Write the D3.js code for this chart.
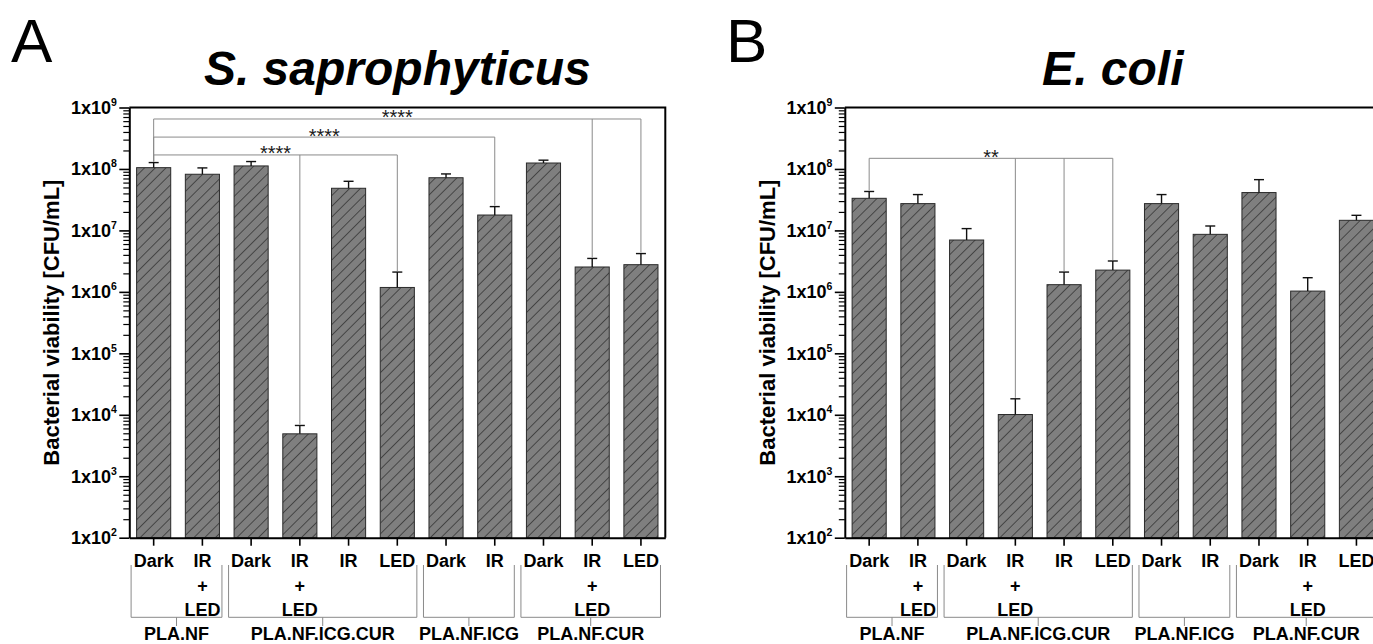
<!DOCTYPE html>
<html>
<head>
<meta charset="utf-8">
<script src="https://cdn.jsdelivr.net/npm/d3@7"></script>
<style>
  html, body { margin: 0; padding: 0; background: #fff; }
  svg { display: block; font-family: "Liberation Sans", Arial, sans-serif; }
</style>
</head>
<body>
<svg id="chart" width="1373" height="644"></svg>
<script>
// Treatment of each bar (a "+" splits the label over several lines)
const conditions = ["Dark", "IR+LED", "Dark", "IR+LED", "IR", "LED", "Dark", "IR", "Dark", "IR+LED", "LED"];
// Material groups under the x axis and how many bars each one spans
const groupNames = ["PLA.NF", "PLA.NF.ICG.CUR", "PLA.NF.ICG", "PLA.NF.CUR"];
const groupSizes = [2, 4, 2, 3];

// Mean viable counts (CFU/mL) and standard deviations
const saproMean = [1.05e8, 8.2e7, 1.12e8, 4.9e3, 4.85e7, 1.18e6, 7.2e7, 1.78e7, 1.25e8, 2.54e6, 2.77e6];
const saproSD   = [2.2e7, 2.2e7, 2.0e7, 1.8e3, 1.45e7, 9.2e5, 1.1e7, 6.6e6, 1.4e7, 9.6e5, 1.43e6];
const coliMean  = [3.33e7, 2.73e7, 6.98e6, 1.01e4, 1.31e6, 2.26e6, 2.73e7, 8.63e6, 4.13e7, 1.03e6, 1.46e7];
const coliSD    = [9.7e6, 1.1e7, 3.72e6, 8.1e3, 7.9e5, 9.2e5, 1.1e7, 3.17e6, 2.57e7, 6.7e5, 3.0e6];

// Significance brackets: reference bar, compared bars, bracket level (CFU/mL), label
const saproSig = [
  { ref: 0, targets: [3, 5], level: 1.69e8, label: "****" },
  { ref: 0, targets: [7],    level: 3.3e8,  label: "****" },
  { ref: 0, targets: [9, 10], level: 6.5e8, label: "****" }
];
const coliSig = [
  { ref: 0, targets: [3, 4, 5], level: 1.49e8, label: "**" }
];

// Axis ticks
const yMajorTicks = [1e2, 1e3, 1e4, 1e5, 1e6, 1e7, 1e8, 1e9];
const yMinorTicks = [];
for (let e = 2; e < 9; e++) for (let k = 2; k <= 9; k++) yMinorTicks.push(k * Math.pow(10, e));

const panels = [
  { letter: "A", title: "S. saprophyticus", mean: saproMean, sd: saproSD, sig: saproSig, left: 129.3, letterX: 11 },
  { letter: "B", title: "E. coli",          mean: coliMean,  sd: coliSD,  sig: coliSig,  left: 844.8, letterX: 726 }
];

const svg = d3.select("#chart");
const FONT = '"Liberation Sans", Arial, sans-serif';
const plotW = 536, plotTop = 107.5, plotBottom = 537.7;

// diagonal hatch for the bars
const defs = svg.append("defs");
const pat = defs.append("pattern")
  .attr("id", "hatch")
  .attr("patternUnits", "userSpaceOnUse")
  .attr("width", 7.6).attr("height", 7.6)
  .attr("patternTransform", "rotate(45)");
pat.append("rect").attr("width", 7.6).attr("height", 7.6).attr("fill", "#7f7f7f");
pat.append("line").attr("x1", 0).attr("y1", 0).attr("x2", 0).attr("y2", 7.6)
  .attr("stroke", "#161616").attr("stroke-width", 1.1);

const y = d3.scaleLog().domain([1e2, 1e9]).range([plotBottom, plotTop]);

panels.forEach(p => {
  const g = svg.append("g");
  const x = d3.scaleBand().domain(d3.range(conditions.length))
    .range([p.left, p.left + plotW]).paddingInner(0.3).paddingOuter(0.15);
  const bw = x.bandwidth();
  const cx = i => x(i) + bw / 2;

  // panel letter and title
  g.append("text").attr("x", p.letterX).attr("y", 62)
    .attr("font-size", 62).attr("font-family", FONT).text(p.letter);
  g.append("text").attr("x", p.left + plotW / 2).attr("y", 85)
    .attr("text-anchor", "middle").attr("font-size", 48)
    .attr("font-weight", "bold").attr("font-style", "italic")
    .attr("font-family", FONT).text(p.title);

  // bars
  g.append("g").selectAll("rect").data(p.mean).join("rect")
    .attr("x", (d, i) => x(i)).attr("width", bw)
    .attr("y", d => y(d)).attr("height", d => plotBottom - y(d))
    .attr("fill", "url(#hatch)").attr("stroke", "#2a2a2a").attr("stroke-width", 1);

  // error bars (upper)
  const eb = g.append("g").attr("stroke", "#111").attr("stroke-width", 1.4);
  p.mean.forEach((m, i) => {
    const yt = y(m + p.sd[i]);
    eb.append("line").attr("x1", cx(i)).attr("x2", cx(i)).attr("y1", y(m)).attr("y2", yt);
    eb.append("line").attr("x1", cx(i) - 5).attr("x2", cx(i) + 5).attr("y1", yt).attr("y2", yt);
  });

  // significance brackets
  const sg = g.append("g");
  p.sig.forEach(s => {
    const yl = y(s.level);
    const last = s.targets[s.targets.length - 1];
    const legEnd = i => y(p.mean[i] + p.sd[i]) - 1;
    sg.append("line").attr("x1", cx(s.ref)).attr("x2", cx(last)).attr("y1", yl).attr("y2", yl)
      .attr("stroke", "#8a8a8a").attr("stroke-width", 1);
    [s.ref].concat(s.targets).forEach(i => {
      sg.append("line").attr("x1", cx(i)).attr("x2", cx(i)).attr("y1", yl).attr("y2", legEnd(i))
        .attr("stroke", "#8a8a8a").attr("stroke-width", 1);
    });
    sg.append("text").attr("x", (cx(s.ref) + cx(last)) / 2).attr("y", yl + 5.5)
      .attr("text-anchor", "middle").attr("font-size", 20)
      .attr("font-family", FONT).attr("fill", "#1a1a1a").text(s.label);
  });

  // frame top and right
  g.append("path")
    .attr("d", `M${p.left},${plotTop}H${p.left + plotW}V${plotBottom}`)
    .attr("fill", "none").attr("stroke", "#000").attr("stroke-width", 2);

  // y axis: minor then major ticks
  g.append("g").attr("transform", `translate(${p.left},0)`)
    .call(d3.axisLeft(y).tickValues(yMinorTicks).tickSize(6).tickSizeOuter(0).tickFormat(() => ""))
    .call(a => a.select(".domain").remove())
    .call(a => a.selectAll("line").attr("stroke-width", 1.2));

  const ya = g.append("g").attr("transform", `translate(${p.left},0)`)
    .call(d3.axisLeft(y).tickValues(yMajorTicks).tickSize(10).tickSizeOuter(0).tickPadding(2.5).tickFormat(() => ""));
  ya.select(".domain").attr("stroke-width", 2);
  ya.selectAll("line").attr("stroke-width", 1.6);
  ya.selectAll("text").each(function(d) {
    const t = d3.select(this).attr("font-size", 18).attr("font-weight", "bold")
      .attr("font-family", FONT).attr("fill", "#000");
    t.append("tspan").text("1x10");
    t.append("tspan").attr("font-size", 10.5).attr("dy", "-8").text(Math.round(Math.log10(d)));
  });

  // y axis title
  g.append("text")
    .attr("transform", `translate(${p.left - 70},${(plotTop + plotBottom) / 2}) rotate(-90)`)
    .attr("text-anchor", "middle").attr("font-size", 22).attr("font-weight", "bold")
    .attr("font-family", FONT).text("Bacterial viability [CFU/mL]");

  // x axis
  const xa = g.append("g").attr("transform", `translate(0,${plotBottom})`)
    .call(d3.axisBottom(x).tickSize(8).tickSizeOuter(0).tickFormat(() => ""));
  xa.select(".domain").attr("stroke-width", 2);
  xa.selectAll("line").attr("stroke-width", 1.6);

  // multi-line condition labels
  const lg = g.append("g").attr("font-size", 18).attr("font-weight", "bold")
    .attr("font-family", FONT).attr("text-anchor", "middle");
  conditions.forEach((c, i) => {
    const parts = c.includes("+") ? [c.split("+")[0], "+", c.split("+")[1]] : [c];
    parts.forEach((s, j) => {
      lg.append("text").attr("x", cx(i)).attr("y", 567.3 + j * 24.35).text(s);
    });
  });

  // group brackets and names
  let start = 0;
  const gb = g.append("g");
  groupNames.forEach((name, k) => {
    const end = start + groupSizes[k] - 1;
    const x0 = x(start) - 5.5, x1 = x(end) + bw + 2.5;
    gb.append("path").attr("d", `M${x0},565V617.3H${x1}V565M${(x0 + x1) / 2},617.3V626`)
      .attr("fill", "none").attr("stroke", "#8a8a8a").attr("stroke-width", 1);
    gb.append("text").attr("x", (x0 + x1) / 2).attr("y", 640)
      .attr("text-anchor", "middle").attr("font-size", 18).attr("font-weight", "bold")
      .attr("font-family", FONT).text(name);
    start = end + 1;
  });
});
</script>
</body>
</html>
